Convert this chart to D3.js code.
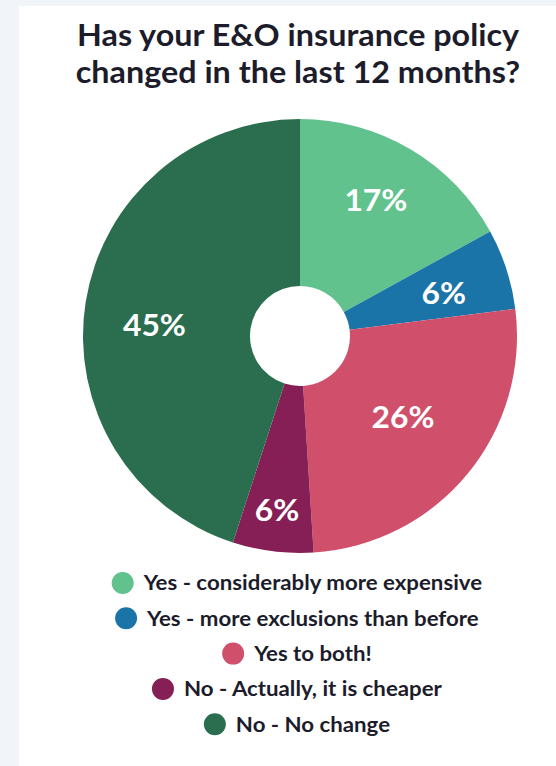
<!DOCTYPE html>
<html>
<head>
<meta charset="utf-8">
<script src="https://cdn.jsdelivr.net/npm/d3@7"></script>
<style>
  body { margin: 0; background: #f1f5f9; }
  svg { display: block; }
</style>
</head>
<body>
<svg width="556" height="766"></svg>
<script>
const categories = [
  "Yes - considerably more expensive",
  "Yes - more exclusions than before",
  "Yes to both!",
  "No - Actually, it is cheaper",
  "No - No change"
];
const values = [17, 6, 26, 6, 45];
const colors = ["#62c28e", "#1b74a8", "#d0506b", "#861f55", "#2b6e4f"];
const titleLines = ["Has your E&O insurance policy", "changed in the last 12 months?"];

const svg = d3.select("svg");
const font = "Lato, 'Open Sans', sans-serif";
const stretch = 1.06; // text in the picture is a little wider than plain Lato

// white card
svg.append("rect")
  .attr("x", 19).attr("y", 6)
  .attr("width", 556 - 19).attr("height", 766 - 6)
  .attr("fill", "#ffffff");

svg.append("g").selectAll("text")
  .data(titleLines)
  .enter().append("text")
  .attr("transform", (d, i) => `translate(298,${46 + i * 37}) scale(${stretch},1)`)
  .attr("text-anchor", "middle")
  .attr("font-family", font)
  .attr("font-weight", 700)
  .attr("font-size", 30.5)
  .attr("fill", "#1c1c2b")
  .text(d => d);

const cx = 300, cy = 336, outerR = 217, innerR = 50;
const pie = d3.pie().sort(null).value(d => d)(values);
const arc = d3.arc().innerRadius(innerR).outerRadius(outerR);

const g = svg.append("g").attr("transform", `translate(${cx},${cy})`);

g.selectAll("path")
  .data(pie)
  .enter().append("path")
  .attr("d", arc)
  .attr("fill", (d, i) => colors[i]);

// label placement: radius and small angle nudge (degrees) per slice
const labelR = [156, 150, 131, 176, 146];
const labelTurn = [-1.5, 1.4, -1.5, 0.3, -4.6];
g.selectAll("text")
  .data(pie)
  .enter().append("text")
  .attr("transform", (d, i) => {
    const a = (d.startAngle + d.endAngle) / 2 + labelTurn[i] * Math.PI / 180;
    const x = labelR[i] * Math.sin(a), y = -labelR[i] * Math.cos(a);
    return `translate(${x},${y}) scale(${stretch},1)`;
  })
  .attr("text-anchor", "middle")
  .attr("dy", "0.36em")
  .attr("font-family", font)
  .attr("font-weight", 700)
  .attr("font-size", 30)
  .attr("fill", "#ffffff")
  .text(d => d.value + "%");

// legend, each row centred
const legend = svg.append("g");
const rows = legend.selectAll("g")
  .data(categories)
  .enter().append("g");

rows.append("text")
  .attr("font-family", font)
  .attr("font-weight", 700)
  .attr("font-size", 21)
  .attr("fill", "#1c1c2b")
  .attr("dy", "0.35em")
  .text(d => d);

rows.each(function(d, i) {
  const row = d3.select(this);
  const t = row.select("text");
  const w = t.node().getComputedTextLength() * stretch;
  const dotR = 11, gap = 10;
  const total = dotR * 2 + gap + w;
  const left = 297 - total / 2;
  row.attr("transform", `translate(${left},${583 + i * 35.3})`);
  row.insert("circle", "text")
    .attr("cx", dotR).attr("cy", 0).attr("r", dotR)
    .attr("fill", colors[i]);
  t.attr("transform", `translate(${dotR * 2 + gap},0) scale(${stretch},1)`);
});
</script>
</body>
</html>
